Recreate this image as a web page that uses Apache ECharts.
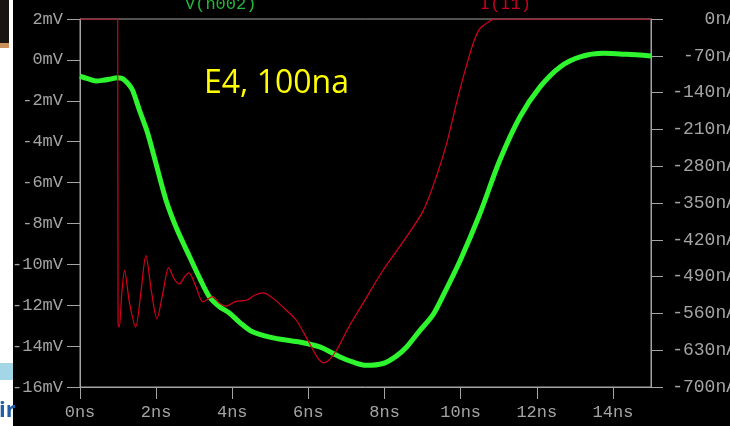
<!DOCTYPE html>
<html><head><meta charset="utf-8">
<script src="https://cdn.jsdelivr.net/npm/echarts@6/dist/echarts.min.js"></script>
<style>html,body{margin:0;padding:0;background:#000}#c{width:730px;height:426px}</style>
</head><body><div id="c"></div>
<script>
// time (ns) and V(n002) (mV)
const vTime = [0,0.2,0.42,0.6,0.77,0.99,1.1,1.17,1.28,1.38,1.56,1.78,2.0,2.26,2.55,2.88,3.15,3.4,3.65,3.93,4.2,4.53,5.07,5.4,5.77,6.3,6.83,7.2,7.52,7.96,8.3,8.58,8.9,9.28,9.6,9.99,10.5,11.03,11.56,12.09,12.62,13.14,13.75,14.36,15];
const vValues = [-0.79,-0.92,-1.03,-1.0,-0.95,-0.87,-0.9,-0.99,-1.2,-1.48,-2.45,-3.6,-5.1,-6.86,-8.3,-9.63,-10.7,-11.59,-12.05,-12.39,-12.85,-13.3,-13.6,-13.7,-13.8,-14.04,-14.53,-14.8,-14.94,-14.85,-14.5,-14.04,-13.3,-12.45,-11.3,-9.8,-7.55,-4.9,-2.78,-1.31,-0.33,0.15,0.32,0.27,0.19];
// time (ns) and I(I1) (nA)
const iTime = [0,0.99,1.0,1.03,1.1,1.17,1.3,1.46,1.6,1.73,1.88,2.02,2.18,2.33,2.48,2.61,2.75,2.86,3.05,3.23,3.49,3.65,3.84,4.1,4.37,4.6,4.81,5.05,5.33,5.68,6.03,6.25,6.41,6.55,6.74,7.09,7.35,7.96,8.58,9.02,9.36,9.63,9.89,10.07,10.33,10.51,10.77,10.9,15];
const iValues = [0,0,-580,-586,-520,-478,-540,-586,-520,-450,-520,-570,-520,-473,-495,-504,-490,-483,-510,-538,-528,-540,-546,-537,-535,-525,-521,-530,-548,-573,-617,-645,-654,-648,-630,-582,-551,-478,-414,-364,-300,-237,-160,-110,-46,-18,-4,0,0];
const xTicks = [0,2,4,6,8,10,12,14];
const leftTicks = [2,0,-2,-4,-6,-8,-10,-12,-14,-16];
const rightTicks = [0,-70,-140,-210,-280,-350,-420,-490,-560,-630,-700];

const grey = '#a4a4a4';
const mono = '"Liberation Mono", "DejaVu Sans Mono", monospace';
const chart = echarts.init(document.getElementById('c'));
chart.setOption({
  backgroundColor: '#000',
  animation: false,
  grid: {left: 80, right: 79, top: 19, bottom: 39, show: true, borderColor: grey, borderWidth: 1, outerBoundsMode: 'none', containLabel: false},
  xAxis: {
    type: 'value', min: 0, max: 15, interval: 2,
    axisLine: {show: true, onZero: false, lineStyle: {color: grey}},
    axisTick: {show: true, length: 12, lineStyle: {color: grey}, customValues: xTicks},
    axisLabel: {color: grey, fontFamily: mono, fontSize: 17, margin: 17, customValues: xTicks, formatter: v => v + 'ns'},
    splitLine: {show: false}
  },
  yAxis: [{
    type: 'value', min: -16, max: 2, interval: 2, position: 'left',
    axisLine: {show: true, onZero: false, lineStyle: {color: grey}},
    axisTick: {show: true, length: 13, lineStyle: {color: grey}, customValues: leftTicks},
    axisLabel: {color: grey, fontFamily: mono, fontSize: 17, margin: 17, customValues: leftTicks, formatter: v => v + 'mV'},
    splitLine: {show: false}
  }, {
    type: 'value', min: -700, max: 0, interval: 70, position: 'right',
    axisLine: {show: true, onZero: false, lineStyle: {color: grey}},
    axisTick: {show: true, length: 12, lineStyle: {color: grey}, customValues: rightTicks},
    axisLabel: {color: grey, fontFamily: mono, fontSize: 18, margin: 86, align: 'right', customValues: rightTicks, formatter: v => v + 'nA'},
    splitLine: {show: false}
  }],
  series: [{
    type: 'line', yAxisIndex: 1, showSymbol: false, smooth: 0.3,
    data: iTime.map((t, k) => [t, iValues[k]]),
    lineStyle: {color: '#d6001c', width: 1.2}, z: 3
  }, {
    type: 'line', yAxisIndex: 0, showSymbol: false, smooth: 0.3,
    data: vTime.map((t, k) => [t, vValues[k]]),
    lineStyle: {color: '#2ef52e', width: 5}, z: 2
  }],
  graphic: [
    {type: 'text', left: 185, top: -4, style: {text: 'V(n002)', fill: '#22b83a', font: '17px ' + mono}},
    {type: 'text', left: 480, top: -4, style: {text: 'I(I1)', fill: '#c8001e', font: '17px ' + mono}},
    {type: 'text', left: 204, top: 68, style: {text: 'E4, 100na', fill: '#ffff00', font: '32px "Open Sans", sans-serif'}},
    {type: 'rect', shape: {x: 0, y: 0, width: 13, height: 426}, style: {fill: '#ffffff'}},
    {type: 'rect', shape: {x: 0, y: 0, width: 9, height: 44}, style: {fill: '#1a1410'}},
    {type: 'rect', shape: {x: 0, y: 43, width: 9, height: 5}, style: {fill: '#c8905a'}},
    {type: 'rect', shape: {x: 0, y: 363, width: 13, height: 17}, style: {fill: '#a3d6e6'}},
    {type: 'text', left: -1, top: 400, style: {text: 'ir', fill: '#1f5fa8', font: 'bold 22px "Open Sans", sans-serif'}}
  ]
});
</script></body></html>
